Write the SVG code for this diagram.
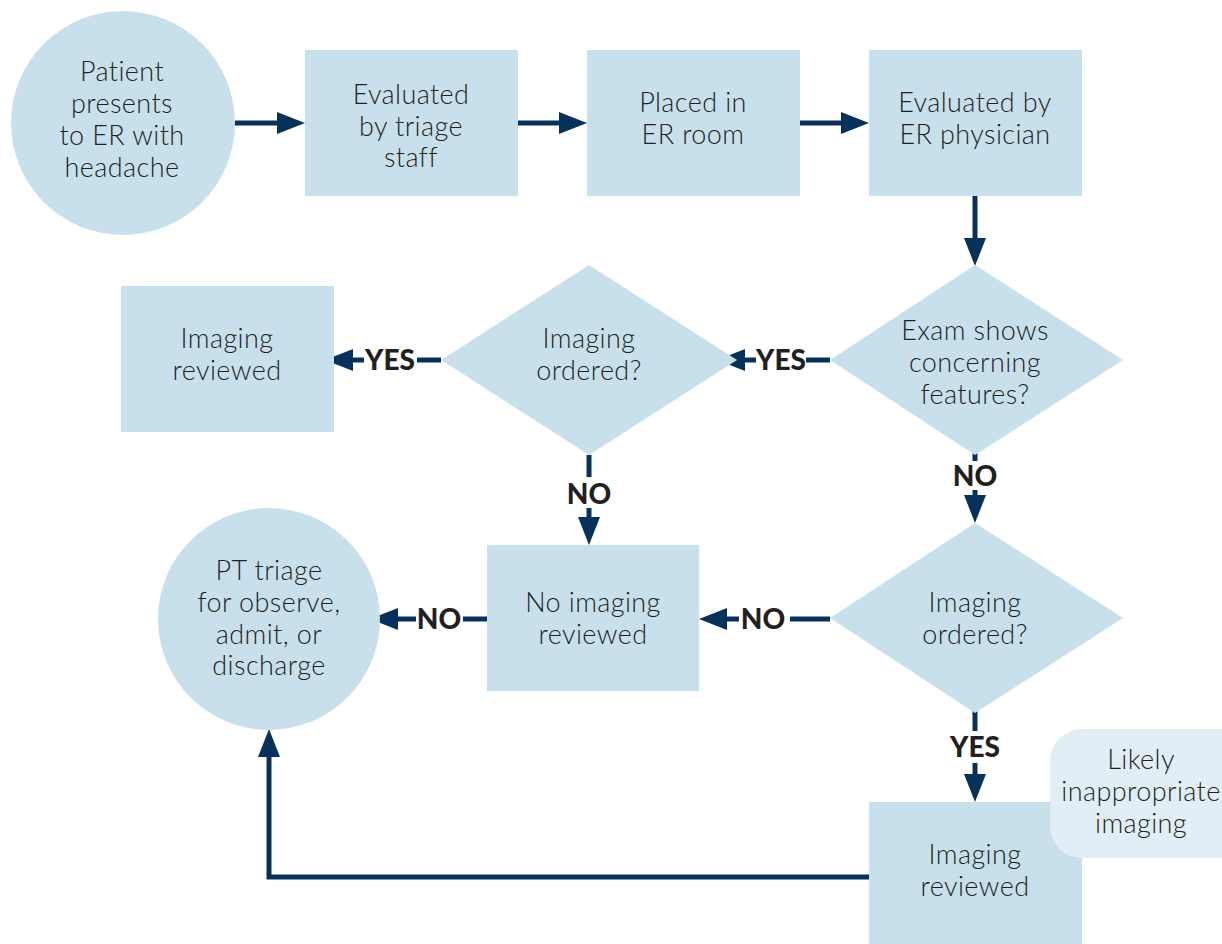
<svg xmlns="http://www.w3.org/2000/svg" width="1222" height="944" viewBox="0 0 1222 944">
<defs>
<style>
.node{fill:#c8e0ec;}
.callout{fill:#e1eef5;}
.t{font-family:Lato,"Open Sans",sans-serif;font-size:27px;font-weight:300;letter-spacing:0.4px;fill:#231f20;text-anchor:middle;}
.lbl{font-family:Lato,"Open Sans",sans-serif;font-size:28px;font-weight:900;fill:#231f20;text-anchor:middle;}
.ln{stroke:#06315a;stroke-width:5;fill:none;}
</style>
<marker id="ah" markerUnits="userSpaceOnUse" markerWidth="28" markerHeight="22" refX="0" refY="11" orient="auto" viewBox="0 0 28 22">
<path d="M0,0 L28,11 L0,22 z" fill="#06315a"/>
</marker>
</defs>
<rect width="1222" height="944" fill="#ffffff"/>

<g id="connectors">
<line class="ln" x1="235" y1="123" x2="277" y2="123" marker-end="url(#ah)"/>
<line class="ln" x1="518" y1="123" x2="559" y2="123" marker-end="url(#ah)"/>
<line class="ln" x1="800" y1="123" x2="841" y2="123" marker-end="url(#ah)"/>
<line class="ln" x1="975" y1="196" x2="975" y2="238" marker-end="url(#ah)"/>
<line class="ln" x1="830" y1="360" x2="806" y2="360"/>
<line class="ln" x1="756" y1="360" x2="745" y2="360" marker-end="url(#ah)"/>
<line class="ln" x1="441" y1="360" x2="417" y2="360"/>
<line class="ln" x1="364" y1="360" x2="353" y2="360" marker-end="url(#ah)"/>
<line class="ln" x1="589" y1="455" x2="589" y2="477"/>
<line class="ln" x1="589" y1="508" x2="589" y2="517" marker-end="url(#ah)"/>
<line class="ln" x1="975" y1="453" x2="975" y2="461"/>
<line class="ln" x1="975" y1="490" x2="975" y2="495" marker-end="url(#ah)"/>
<line class="ln" x1="830" y1="619" x2="790" y2="619"/>
<line class="ln" x1="739" y1="619" x2="727" y2="619" marker-end="url(#ah)"/>
<line class="ln" x1="487" y1="619" x2="463" y2="619"/>
<line class="ln" x1="416" y1="619" x2="398" y2="619" marker-end="url(#ah)"/>
<line class="ln" x1="975" y1="711" x2="975" y2="731"/>
<line class="ln" x1="975" y1="763" x2="975" y2="774" marker-end="url(#ah)"/>
<polyline class="ln" points="869,877 269,877 269,757" marker-end="url(#ah)"/>
<text class="lbl" x="781" y="370">YES</text>
<text class="lbl" x="390" y="370">YES</text>
<text class="lbl" x="589" y="504">NO</text>
<text class="lbl" x="975" y="486">NO</text>
<text class="lbl" x="763" y="629">NO</text>
<text class="lbl" x="439" y="629">NO</text>
<text class="lbl" x="975" y="757">YES</text>
</g>

<g id="n-start">
<circle class="node" cx="123" cy="123" r="112"/>
<text class="t" x="122" y="81">Patient</text>
<text class="t" x="122" y="113">presents</text>
<text class="t" x="122" y="145">to ER with</text>
<text class="t" x="122" y="177">headache</text>
</g>

<g id="n-triage">
<rect class="node" x="305" y="50" width="213" height="146"/>
<text class="t" x="411" y="104">Evaluated</text>
<text class="t" x="411" y="136">by triage</text>
<text class="t" x="411" y="167">staff</text>
</g>

<g id="n-room">
<rect class="node" x="587" y="50" width="213" height="146"/>
<text class="t" x="693" y="112">Placed in</text>
<text class="t" x="693" y="144">ER room</text>
</g>

<g id="n-physician">
<rect class="node" x="869" y="50" width="213" height="146"/>
<text class="t" x="975" y="112">Evaluated by</text>
<text class="t" x="975" y="144">ER physician</text>
</g>

<g id="n-exam">
<polygon class="node" points="975,265 1123,360 975,455 830,360"/>
<text class="t" x="975" y="340">Exam shows</text>
<text class="t" x="975" y="372">concerning</text>
<text class="t" x="975" y="404">features?</text>
</g>

<g id="n-ordered1">
<polygon class="node" points="589,265 737,360 589,455 441,360"/>
<text class="t" x="589" y="348">Imaging</text>
<text class="t" x="589" y="380">ordered?</text>
</g>

<g id="n-reviewed1">
<rect class="node" x="121" y="286" width="213" height="146"/>
<text class="t" x="227" y="348">Imaging</text>
<text class="t" x="227" y="380">reviewed</text>
</g>

<g id="n-noimaging">
<rect class="node" x="487" y="545" width="212" height="146"/>
<text class="t" x="593" y="612">No imaging</text>
<text class="t" x="593" y="644">reviewed</text>
</g>

<g id="n-ordered2">
<polygon class="node" points="975,523 1123,618 975,713 830,618"/>
<text class="t" x="975" y="612">Imaging</text>
<text class="t" x="975" y="644">ordered?</text>
</g>

<g id="n-pttriage">
<circle class="node" cx="269" cy="619" r="111"/>
<text class="t" x="269" y="580">PT triage</text>
<text class="t" x="269" y="612">for observe,</text>
<text class="t" x="269" y="644">admit, or</text>
<text class="t" x="269" y="675">discharge</text>
</g>

<g id="n-reviewed2">
<rect class="node" x="869" y="802" width="213" height="150"/>
<text class="t" x="975" y="864">Imaging</text>
<text class="t" x="975" y="896">reviewed</text>
</g>

<g id="n-likely">
<rect class="callout" x="1050" y="729" width="200" height="129" rx="32" ry="32"/>
<text class="t" x="1141" y="769">Likely</text>
<text class="t" x="1141" y="801">inappropriate</text>
<text class="t" x="1141" y="833">imaging</text>
</g>
</svg>
